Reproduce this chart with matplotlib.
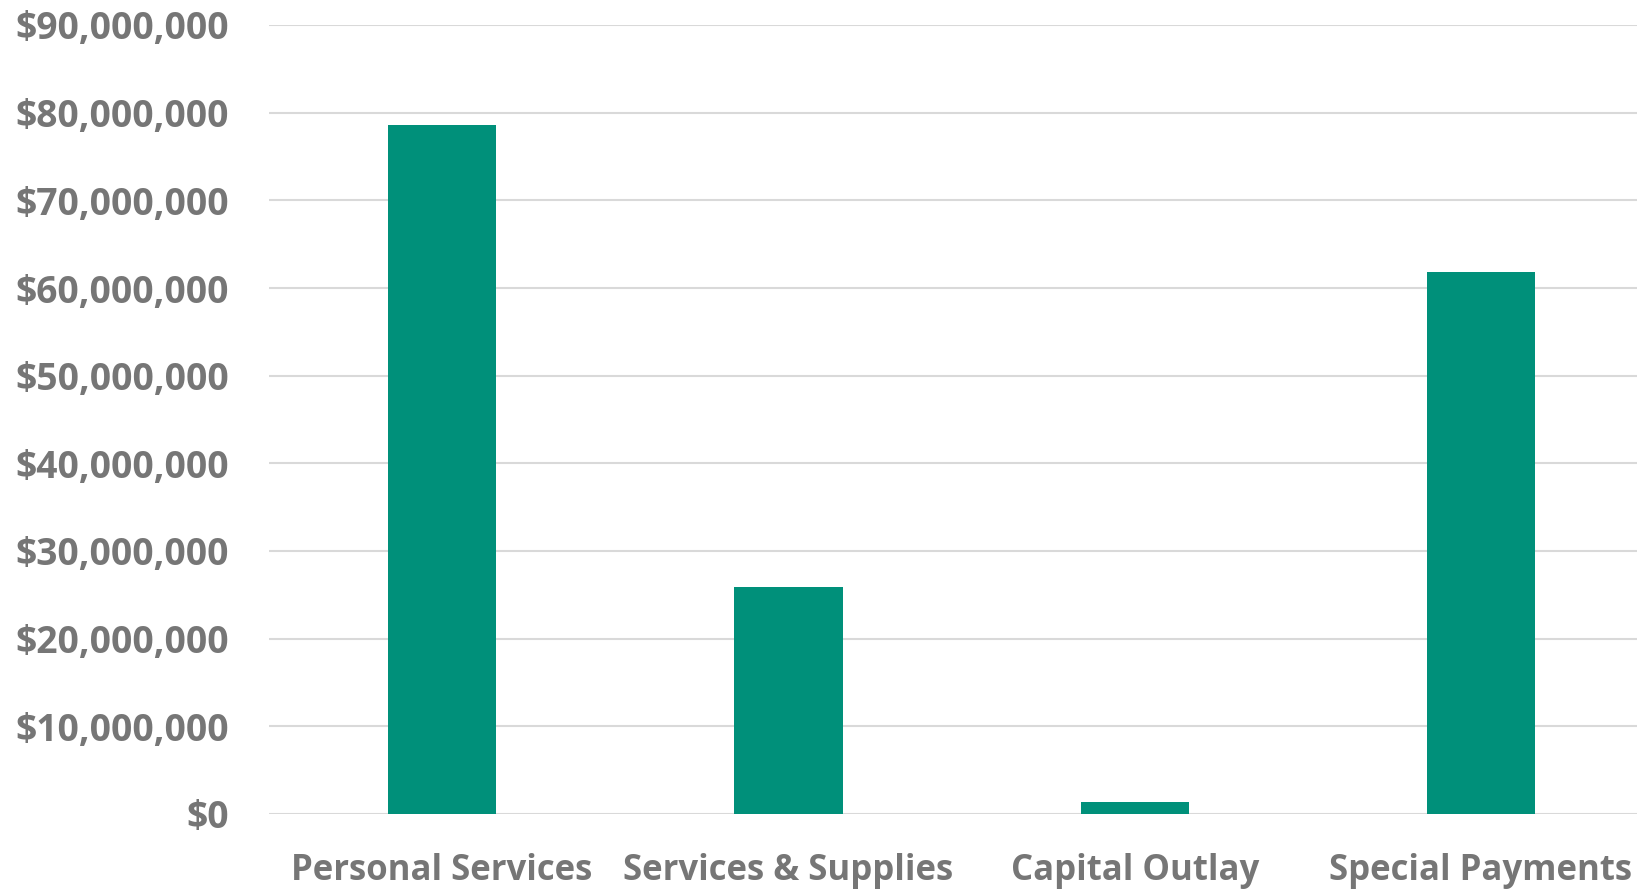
import matplotlib
matplotlib.use('Agg')
import matplotlib.pyplot as plt
from matplotlib.ticker import FuncFormatter, MultipleLocator

categories = ['Personal Services', 'Services & Supplies', 'Capital Outlay', 'Special Payments']
amounts = [78600000, 25850000, 1330000, 61850000]

plt.rcParams['font.family'] = ['Open Sans', 'DejaVu Sans']

fig = plt.figure(figsize=(16.37, 8.91), dpi=100)
# axes runs past the right edge, like the cropped original
ax = fig.add_axes([269 / 1637, 77 / 891, (1637 - 269) / 1637, (814 - 25) / 891])

x = range(len(categories))
ax.bar(x, amounts, width=0.313, color='#00907a', zorder=3)

ax.set_ylim(0, 90000000)
ax.set_xlim(-0.5, -0.5 + (1637 - 269) / 346.3)
ax.yaxis.set_major_locator(MultipleLocator(10000000))
ax.yaxis.set_major_formatter(FuncFormatter(lambda v, p: '${:,.0f}'.format(v)))
ax.set_xticks(list(x))
ax.set_xticklabels(categories)

ax.grid(axis='y', color='#d9d9d9', linewidth=1.5, zorder=0)
for s in ax.spines.values():
    s.set_visible(False)
ax.tick_params(axis='both', length=0, colors='#767676', labelsize=25)
ax.tick_params(axis='y', pad=29, labelsize=26.8)
ax.tick_params(axis='x', pad=28)
for lbl in ax.get_xticklabels() + ax.get_yticklabels():
    lbl.set_fontweight('bold')

fig.savefig('out.png', dpi=100, facecolor='white')
